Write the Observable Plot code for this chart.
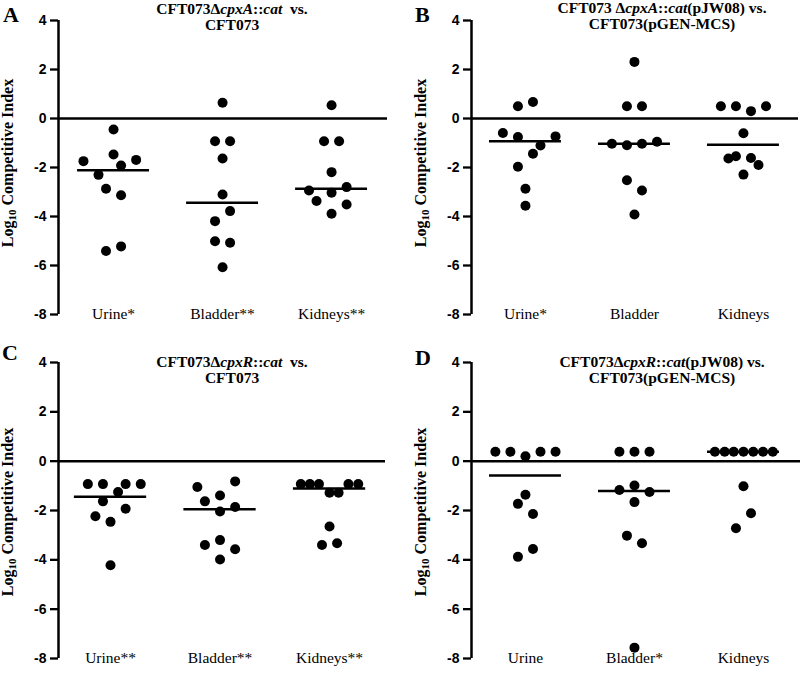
<!DOCTYPE html>
<html><head><meta charset="utf-8">
<script src="https://cdn.jsdelivr.net/npm/d3@7"></script>
<script src="https://cdn.jsdelivr.net/npm/@observablehq/plot@0.6"></script>
<style>
body{margin:0;background:#fff;}
#root{position:relative;width:800px;height:682px;overflow:hidden;background:#fff;}
.panel{position:absolute;}
.title{position:absolute;font-family:"Liberation Serif","Times New Roman",serif;font-weight:bold;font-size:15.5px;text-align:center;line-height:16px;white-space:nowrap;transform:translateX(-50%);color:#000;}
.letter{position:absolute;font-family:"Liberation Serif","Times New Roman",serif;font-weight:bold;font-size:22px;line-height:22px;color:#000;}
.ylab{position:absolute;font-family:"Liberation Serif","Times New Roman",serif;font-weight:bold;font-size:16px;line-height:16px;white-space:nowrap;transform:translate(-50%,-50%) rotate(-90deg);color:#000;}
.ylab sub{font-size:11px;vertical-align:-3px;line-height:0;}
</style>
</head><body>
<div id="root"></div>
<script>
// ---------- data ----------
const yTicks = [4, 2, 0, -2, -4, -6, -8];

const groupsA = ["Urine*", "Bladder**", "Kidneys**"];
const aUrine     = [-0.45, -1.74, -1.47, -1.69, -1.92, -2.30, -2.87, -3.13, -5.41, -5.22];
const aUrineSlot = [0, -4, 0, 3, 1, -2, -1, 1, -1, 1];
const aBladder     = [0.64, -0.93, -0.93, -1.63, -3.10, -3.78, -4.19, -5.01, -5.07, -6.07];
const aBladderSlot = [0, -1, 1, 0, 0, 1, -1, -1, 1, 0];
const aKidneys     = [0.54, -0.93, -0.93, -2.19, -2.94, -2.80, -3.03, -3.37, -3.51, -3.89];
const aKidneysSlot = [0, -1, 1, 0, -3, 2, 0, -2, 2, 0];

const groupsB = ["Urine*", "Bladder", "Kidneys"];
const bUrine     = [0.50, 0.67, -0.59, -0.76, -0.73, -1.10, -1.44, -1.97, -2.87, -3.56];
const bUrineSlot = [-1, 1, -3, -1, 4, 2, 1, -1, 0, 0];
const bBladder     = [2.31, 0.50, 0.50, -1.03, -1.09, -1.03, -0.95, -2.52, -2.94, -3.92];
const bBladderSlot = [0, -1, 1, -3, -1, 1, 3, -1, 1, 0];
const bKidneys     = [0.50, 0.50, 0.30, 0.50, -0.60, -1.63, -1.54, -1.61, -1.90, -2.29];
const bKidneysSlot = [-3, -1, 1, 3, 0, -2, -1, 1, 2, 0];

const groupsC = ["Urine**", "Bladder**", "Kidneys**"];
const cUrine     = [-0.93, -0.93, -0.93, -0.93, -1.25, -1.63, -1.93, -2.23, -2.46, -4.22];
const cUrineSlot = [-3, -1, 2, 4, 1, -1, 2, -2, 0, 0];
const cBladder     = [-0.82, -1.05, -1.39, -1.63, -1.86, -2.04, -3.40, -3.20, -3.57, -3.99];
const cBladderSlot = [2, -3, 0, -2, 2, 0, -2, 0, 2, 0];
const cKidneys     = [-0.93, -0.93, -0.93, -0.93, -0.93, -1.28, -1.28, -2.65, -3.40, -3.33];
const cKidneysSlot = [-3.8, -2.6, -1.4, 2.5, 3.8, 0, 1.2, 0, -1, 1];

const groupsD = ["Urine", "Bladder*", "Kidneys"];
const dUrine     = [0.38, 0.38, 0.38, 0.38, 0.20, -1.36, -1.73, -2.14, -3.56, -3.88];
const dUrineSlot = [-4, -2, 2, 4, 0, 0, -1, 1, 1, -1];
const dBladder     = [0.38, 0.38, 0.38, -1.17, -0.99, -1.25, -1.66, -3.02, -3.33, -7.56];
const dBladderSlot = [-2, 0, 2, -2, 0, 2, 0, -1, 1, 0];
const dKidneys     = [0.38, 0.38, 0.38, 0.38, 0.38, 0.38, 0.38, -1.02, -2.11, -2.72];
const dKidneysSlot = [-3.8, -2.5, -1.3, 0, 1.3, 2.6, 3.9, 0, 1, -1];

// ---------- layout ----------
const panels = [
  {letter: "A", left: 0, top: 0, height: 341, mL: 58, mR: 13, mT: 20, mB: 27, dom: [0.495, 3.513],
   groups: groupsA, vals: [aUrine, aBladder, aKidneys], slots: [aUrineSlot, aBladderSlot, aKidneysSlot],
   title: "CFT073Δ<i>cpxA</i>::<i>cat</i>&nbsp; vs.<br>CFT073", tx: 232, ty: 0.5, lx: 3, ly: 3.5, yx: 8, yy: 163},
  {letter: "B", left: 400, top: 0, height: 341, mL: 71, mR: 2, mT: 20, mB: 27, dom: [0.505, 3.505],
   groups: groupsB, vals: [bUrine, bBladder, bKidneys], slots: [bUrineSlot, bBladderSlot, bKidneysSlot],
   title: "CFT073 Δ<i>cpxA</i>::<i>cat</i>(pJW08) vs.<br>CFT073(pGEN-MCS)", tx: 662, ty: 0, lx: 415, ly: 3.5, yx: 421, yy: 163},
  {letter: "C", left: 0, top: 340, height: 342, mL: 58, mR: 15, mT: 22, mB: 24, dom: [0.525, 3.511],
   groups: groupsC, vals: [cUrine, cBladder, cKidneys], slots: [cUrineSlot, cBladderSlot, cKidneysSlot],
   title: "CFT073Δ<i>cpxR</i>::<i>cat</i>&nbsp; vs.<br>CFT073", tx: 232, ty: 353.5, lx: 2, ly: 341.5, yx: 8, yy: 512},
  {letter: "D", left: 400, top: 340, height: 342, mL: 71, mR: 0, mT: 22, mB: 24, dom: [0.505, 3.523],
   groups: groupsD, vals: [dUrine, dBladder, dKidneys], slots: [dUrineSlot, dBladderSlot, dKidneysSlot],
   title: "CFT073Δ<i>cpxR</i>::<i>cat</i>(pJW08) vs.<br>CFT073(pGEN-MCS)", tx: 662, ty: 353.5, lx: 415, ly: 346.5, yx: 421, yy: 512}
];

const root = document.getElementById("root");
const slotStep = 0.069;

for (const p of panels) {
  const points = [];
  const meds = [];
  p.groups.forEach((g, gi) => {
    p.vals[gi].forEach((v, i) => points.push({g: gi + 1, v, s: p.slots[gi][i]}));
    meds.push({g: gi + 1, m: d3.median(p.vals[gi])});
  });
  const labels = p.groups.map((name, gi) => ({g: gi + 1, name}));

  const chart = Plot.plot({
    width: 400,
    height: p.height,
    marginLeft: p.mL, marginRight: p.mR, marginTop: p.mT, marginBottom: p.mB,
    style: {fontFamily: "'Liberation Sans', Arial, sans-serif", fontSize: "14px", fontWeight: "bold", background: "transparent", color: "#000"},
    x: {type: "linear", domain: p.dom, axis: null},
    y: {domain: [-8, 4], axis: null},
    marks: [
      Plot.axisY({ticks: yTicks, tickFormat: d => String(d), tickSize: 8, tickPadding: 4, strokeWidth: 2.3, label: null, fill: "#000", stroke: "#000", fontWeight: "bold", fontSize: 14}),
      Plot.ruleX([p.dom[0]], {y1: -8, y2: 4, strokeWidth: 2.5, stroke: "#000"}),
      Plot.ruleY([0], {strokeWidth: 2.5, stroke: "#000"}),
      Plot.ruleY(meds, {y: "m", x1: d => d.g - 0.33, x2: d => d.g + 0.33, strokeWidth: 2.5, stroke: "#000"}),
      Plot.dot(points, {x: d => d.g + d.s * slotStep, y: "v", r: 5, fill: "#000", stroke: null}),
      Plot.text(labels, {x: "g", y: () => -8, text: "name", fontFamily: "'Liberation Serif', 'Times New Roman', serif", fontWeight: "normal", fontSize: 15.5, fill: "#000", lineAnchor: "middle"})
    ]
  });
  chart.classList.add("panel");
  chart.style.left = p.left + "px";
  chart.style.top = p.top + "px";
  root.appendChild(chart);

  const t = document.createElement("div");
  t.className = "title";
  t.style.left = p.tx + "px";
  t.style.top = p.ty + "px";
  t.innerHTML = p.title;
  root.appendChild(t);

  const l = document.createElement("div");
  l.className = "letter";
  l.style.left = p.lx + "px";
  l.style.top = p.ly + "px";
  l.textContent = p.letter;
  root.appendChild(l);

  const yl = document.createElement("div");
  yl.className = "ylab";
  yl.style.left = p.yx + "px";
  yl.style.top = p.yy + "px";
  yl.innerHTML = "Log<sub>10</sub> Competitive Index";
  root.appendChild(yl);
}
</script>
</body></html>
